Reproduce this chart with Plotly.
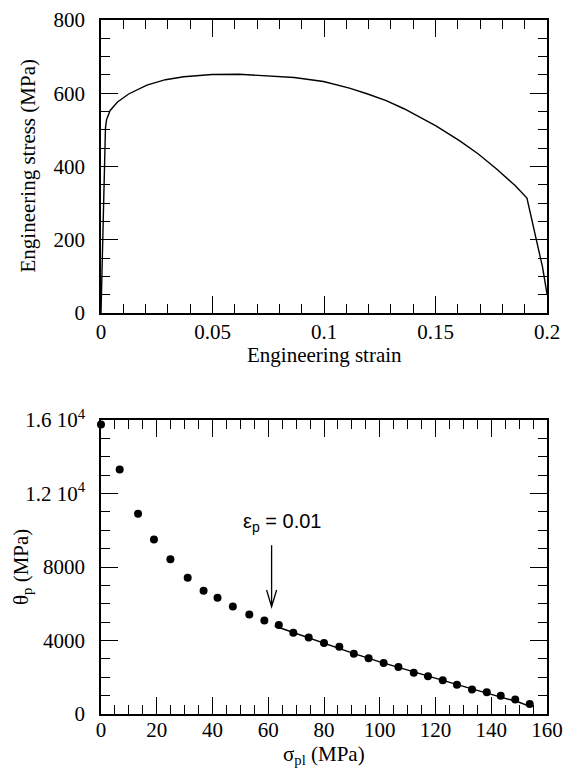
import plotly.graph_objects as go

# ---- Top panel: engineering stress-strain curve ----
strain = [0, 0.0008, 0.0015, 0.002, 0.0025, 0.0041, 0.0074, 0.0124, 0.0206, 0.0289,
          0.0371, 0.0498, 0.0619, 0.0784, 0.0866, 0.0998, 0.1114, 0.1196, 0.1279,
          0.1361, 0.1502, 0.1609, 0.1692, 0.1774, 0.1857, 0.1910, 0.1955, 0.198, 0.2]
stress = [0, 220, 445, 505, 528, 553, 576, 598, 622, 637,
          645, 651, 652, 647, 643, 632, 614, 598, 580,
          557, 511, 470, 434, 393, 348, 314, 197, 125, 52]

# ---- Bottom panel: hardening rate vs plastic stress ----
sigma_pl = [0, 6.7, 13.3, 19.0, 24.9, 31.1, 36.8, 41.8, 47.3, 53.2, 58.6, 63.8, 69.0,
            74.5, 80.0, 85.5, 90.7, 96.0, 101.4, 106.7, 112.2, 117.3, 122.6, 127.7,
            133.1, 138.4, 143.4, 148.6, 153.8]
theta_p = [15750, 13300, 10900, 9500, 8420, 7410, 6710, 6330, 5850, 5410, 5090, 4840, 4420,
           4170, 3860, 3660, 3280, 3030, 2780, 2560, 2250, 2050, 1840, 1590,
           1330, 1190, 990, 790, 540]

fit_sigma = [62.3, 70, 80, 90, 100, 110, 120, 130, 140, 150, 153.8]
fit_theta = [4790, 4380, 3860, 3330, 2840, 2380, 1940, 1500, 1070, 640, 420]

# ---- Ticks ----
top_xticks = [0, 0.05, 0.1, 0.15, 0.2]
top_xlabels = ["0", "0.05", "0.1", "0.15", "0.2"]
top_xminor = [round(0.01 * i, 2) for i in range(1, 20)]
top_yticks = [0, 200, 400, 600, 800]
top_yminor = [50 * i for i in range(1, 16)]
bot_xticks = [0, 20, 40, 60, 80, 100, 120, 140, 160]
bot_xminor = [5 * i for i in range(1, 32)]
bot_yticks = [0, 4000, 8000, 12000, 16000]
bot_ylabels = ["0", "4000", "8000", "1.2 10<sup>4</sup>", "1.6 10<sup>4</sup>"]
bot_yminor = [1000 * i for i in range(1, 16)]

# page body has an 8px margin: figure is drawn 8px in from the window's corner
OFF = 8
W, H = 577 - OFF, 771 - OFF
SERIF = "Liberation Serif"
SANS = "Liberation Sans"

def px_x(p):
    return (p - OFF) / W

def px_y(p):
    return 1 - (p - OFF) / H

fig = go.Figure()

fig.add_trace(go.Scatter(x=strain, y=stress, mode="lines",
                         line=dict(color="black", width=1.4),
                         xaxis="x", yaxis="y", showlegend=False))

fig.add_trace(go.Scatter(x=sigma_pl, y=theta_p, mode="markers",
                         marker=dict(color="black", size=8),
                         xaxis="x2", yaxis="y2", showlegend=False, cliponaxis=False))
fig.add_trace(go.Scatter(x=fit_sigma, y=fit_theta, mode="lines",
                         line=dict(color="black", width=1.4),
                         xaxis="x2", yaxis="y2", showlegend=False))

xdom = [px_x(101), px_x(547)]

def axis(rng, dom, vals, minor_vals, anchor, texts=None, standoff=None):
    d = dict(domain=dom, range=rng, anchor=anchor, automargin=False,
             showline=True, linecolor="black", linewidth=1.5, mirror="ticks",
             ticks="inside", tickcolor="black", tickwidth=1.2, ticklen=17,
             showgrid=False, zeroline=False, tickmode="array", tickvals=vals,
             tickfont=dict(family=SERIF, size=21, color="black"),
             minor=dict(tickmode="array", tickvals=minor_vals, ticks="inside", ticklen=9,
                        tickcolor="black", tickwidth=1.2, showgrid=False))
    if texts is not None:
        d["ticktext"] = texts
    if standoff is not None:
        d["ticklabelstandoff"] = standoff
    return d

fig.update_layout(
    template="none",
    width=W, height=H,
    margin=dict(l=0, r=0, t=0, b=0, pad=0),
    paper_bgcolor="white", plot_bgcolor="white",
    font=dict(family=SERIF, size=21, color="black"),
    xaxis=axis([0, 0.2], xdom, top_xticks, top_xminor, "y", top_xlabels, -1),
    yaxis=axis([0, 800], [px_y(313), px_y(20)], top_yticks, top_yminor, "x", None, 10),
    xaxis2=axis([0, 160], xdom, bot_xticks, bot_xminor, "y2", None, -4),
    yaxis2=axis([0, 16000], [px_y(714), px_y(420)], bot_yticks, bot_yminor, "x2",
                bot_ylabels, 10),
)

# Axis titles
fig.add_annotation(text="Engineering strain", xref="paper", yref="paper",
                   x=(xdom[0] + xdom[1]) / 2, y=px_y(355), showarrow=False,
                   font=dict(family=SERIF, size=21, color="black"),
                   xanchor="center", yanchor="middle")
fig.add_annotation(text="Engineering stress (MPa)", xref="paper", yref="paper",
                   x=px_x(27), y=px_y(166.5), showarrow=False, textangle=-90,
                   font=dict(family=SERIF, size=21, color="black"),
                   xanchor="center", yanchor="middle")
fig.add_annotation(text="σ<sub>pl</sub> (MPa)", xref="paper", yref="paper",
                   x=(xdom[0] + xdom[1]) / 2, y=px_y(755), showarrow=False,
                   font=dict(family=SERIF, size=21, color="black"),
                   xanchor="center", yanchor="middle")
fig.add_annotation(text="θ<sub>p</sub> (MPa)", xref="paper", yref="paper",
                   x=px_x(22), y=px_y(567), showarrow=False, textangle=-90,
                   font=dict(family=SERIF, size=21, color="black"),
                   xanchor="center", yanchor="middle")

# Strain marker annotation
fig.add_annotation(text="ε<sub>p</sub> = 0.01", xref="x2", yref="y2",
                   x=65, y=10400, showarrow=False,
                   font=dict(family=SANS, size=20, color="black"),
                   xanchor="center", yanchor="middle")
fig.add_shape(type="path", xref="x2", yref="y2",
              path="M 61.2,9190 L 61.2,5840 M 59.4,6750 L 61.2,5840 L 63.0,6750",
              line=dict(color="black", width=1.3))

fig.write_html("out.html")
